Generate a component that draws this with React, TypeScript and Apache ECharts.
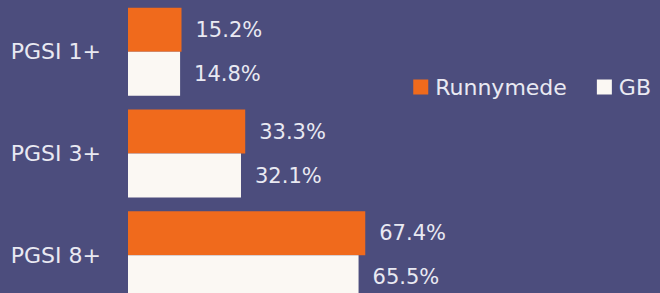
import React, { useEffect, useRef } from "react";
import * as echarts from "echarts";

const categories = ["PGSI 1+", "PGSI 3+", "PGSI 8+"];
const runnymede = [15.2, 33.3, 67.4];
const gb = [14.8, 32.1, 65.5];
const seriesNames = ["Runnymede", "GB"];

const BG = "#4c4d7d";
const ORANGE = "#f06a1c";
const CREAM = "#fbf8f3";
const TEXT = "#e9e9f2";
const FONT = "DejaVu Sans";

export default function App() {
  const ref = useRef<HTMLDivElement>(null);
  useEffect(() => {
    if (!ref.current) return;
    const chart = echarts.init(ref.current, undefined, { renderer: "svg" });
    const label = {
      show: true,
      position: "right",
      distance: 14,
      color: TEXT,
      fontFamily: FONT,
      fontSize: 21,
      formatter: (p: any) => `${p.value.toFixed(1)}%`,
    };
    chart.setOption({
      animation: false,
      backgroundColor: BG,
      textStyle: { fontFamily: FONT },
      legend: {
        data: seriesNames,
        right: 4,
        top: 71,
        itemWidth: 15,
        itemHeight: 15,
        itemGap: 30,
        icon: "rect",
        textStyle: { color: TEXT, fontSize: 22, fontFamily: FONT, padding: [0, 0, 0, 2] },
      },
      grid: { left: 128, right: 180, top: 1, bottom: 0, containLabel: false },
      xAxis: {
        type: "value",
        min: 0,
        max: 100,
        show: false,
      },
      yAxis: {
        type: "category",
        data: categories,
        inverse: true,
        axisLine: { show: false },
        axisTick: { show: false },
        axisLabel: { color: TEXT, fontSize: 22, fontFamily: FONT, margin: 27 },
        splitLine: { show: false },
      },
      series: [
        {
          name: seriesNames[0],
          type: "bar",
          data: runnymede,
          barWidth: 44,
          barGap: "0%",
          itemStyle: { color: ORANGE },
          label,
        },
        {
          name: seriesNames[1],
          type: "bar",
          data: gb,
          barWidth: 44,
          barGap: "0%",
          itemStyle: { color: CREAM },
          label,
        },
      ],
    });
    return () => chart.dispose();
  }, []);
  return (
    <div style={{ position: "fixed", left: 0, top: 0, width: 660, height: 293, overflow: "hidden", background: BG }}>
      <div ref={ref} style={{ position: "absolute", left: 0, top: 0, width: 660, height: 306 }} />
    </div>
  );
}
